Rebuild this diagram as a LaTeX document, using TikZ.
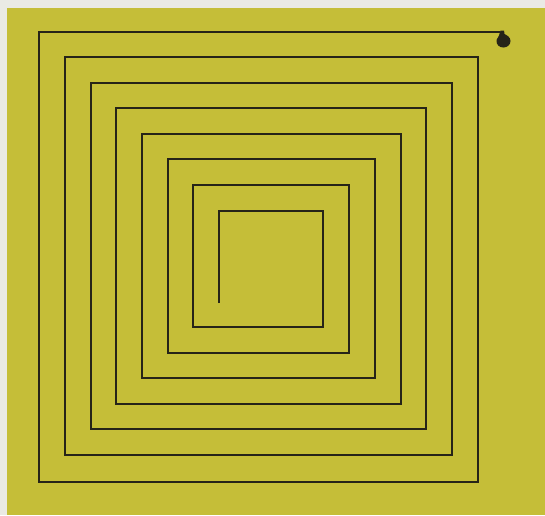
\documentclass[tikz,border=0pt]{standalone}
\definecolor{paper}{RGB}{234,234,228}
\definecolor{olive}{RGB}{197,190,56}
\definecolor{ink}{RGB}{38,36,24}
\begin{document}
\begin{tikzpicture}[x=1pt,y=-1pt,
  spiral/.style={draw=ink,line width=2pt,line join=miter,line cap=butt}]
\useasboundingbox (0,0) rectangle (545,515);
\fill[paper] (0,0) rectangle (545,515);
\fill[olive] (6.5,8) rectangle (545,515);
\draw[spiral] (219,303) -- (219,210.7) -- (323.3,210.7) -- (323.3,327.3)
  -- (193.3,327.3) -- (193.3,185.3) -- (349.3,185.3) -- (349.3,352.7)
  -- (167.7,352.7) -- (167.7,159.3) -- (375,159.3) -- (375,378.3)
  -- (142,378.3) -- (142,134) -- (400.7,134) -- (400.7,404)
  -- (116.3,404) -- (116.3,108.3) -- (426,108.3) -- (426,429.3)
  -- (90.7,429.3) -- (90.7,82.7) -- (451.7,82.7) -- (451.7,455)
  -- (65,455) -- (65,57.3) -- (477.7,57.3) -- (477.7,481.7)
  -- (39.3,481.7) -- (39.3,31.7) -- (500,31.7);
\fill[ink] (500.5,30.5) -- (499,35.5) -- (496.5,40)
  .. controls (496,45) and (499.5,47.5) .. (503.5,47.5)
  .. controls (507.5,47.5) and (510.5,44.5) .. (510.5,41)
  .. controls (510.5,37) and (506.5,35) .. (504.5,34)
  -- (504,30.5) -- cycle;
\end{tikzpicture}
\end{document}
